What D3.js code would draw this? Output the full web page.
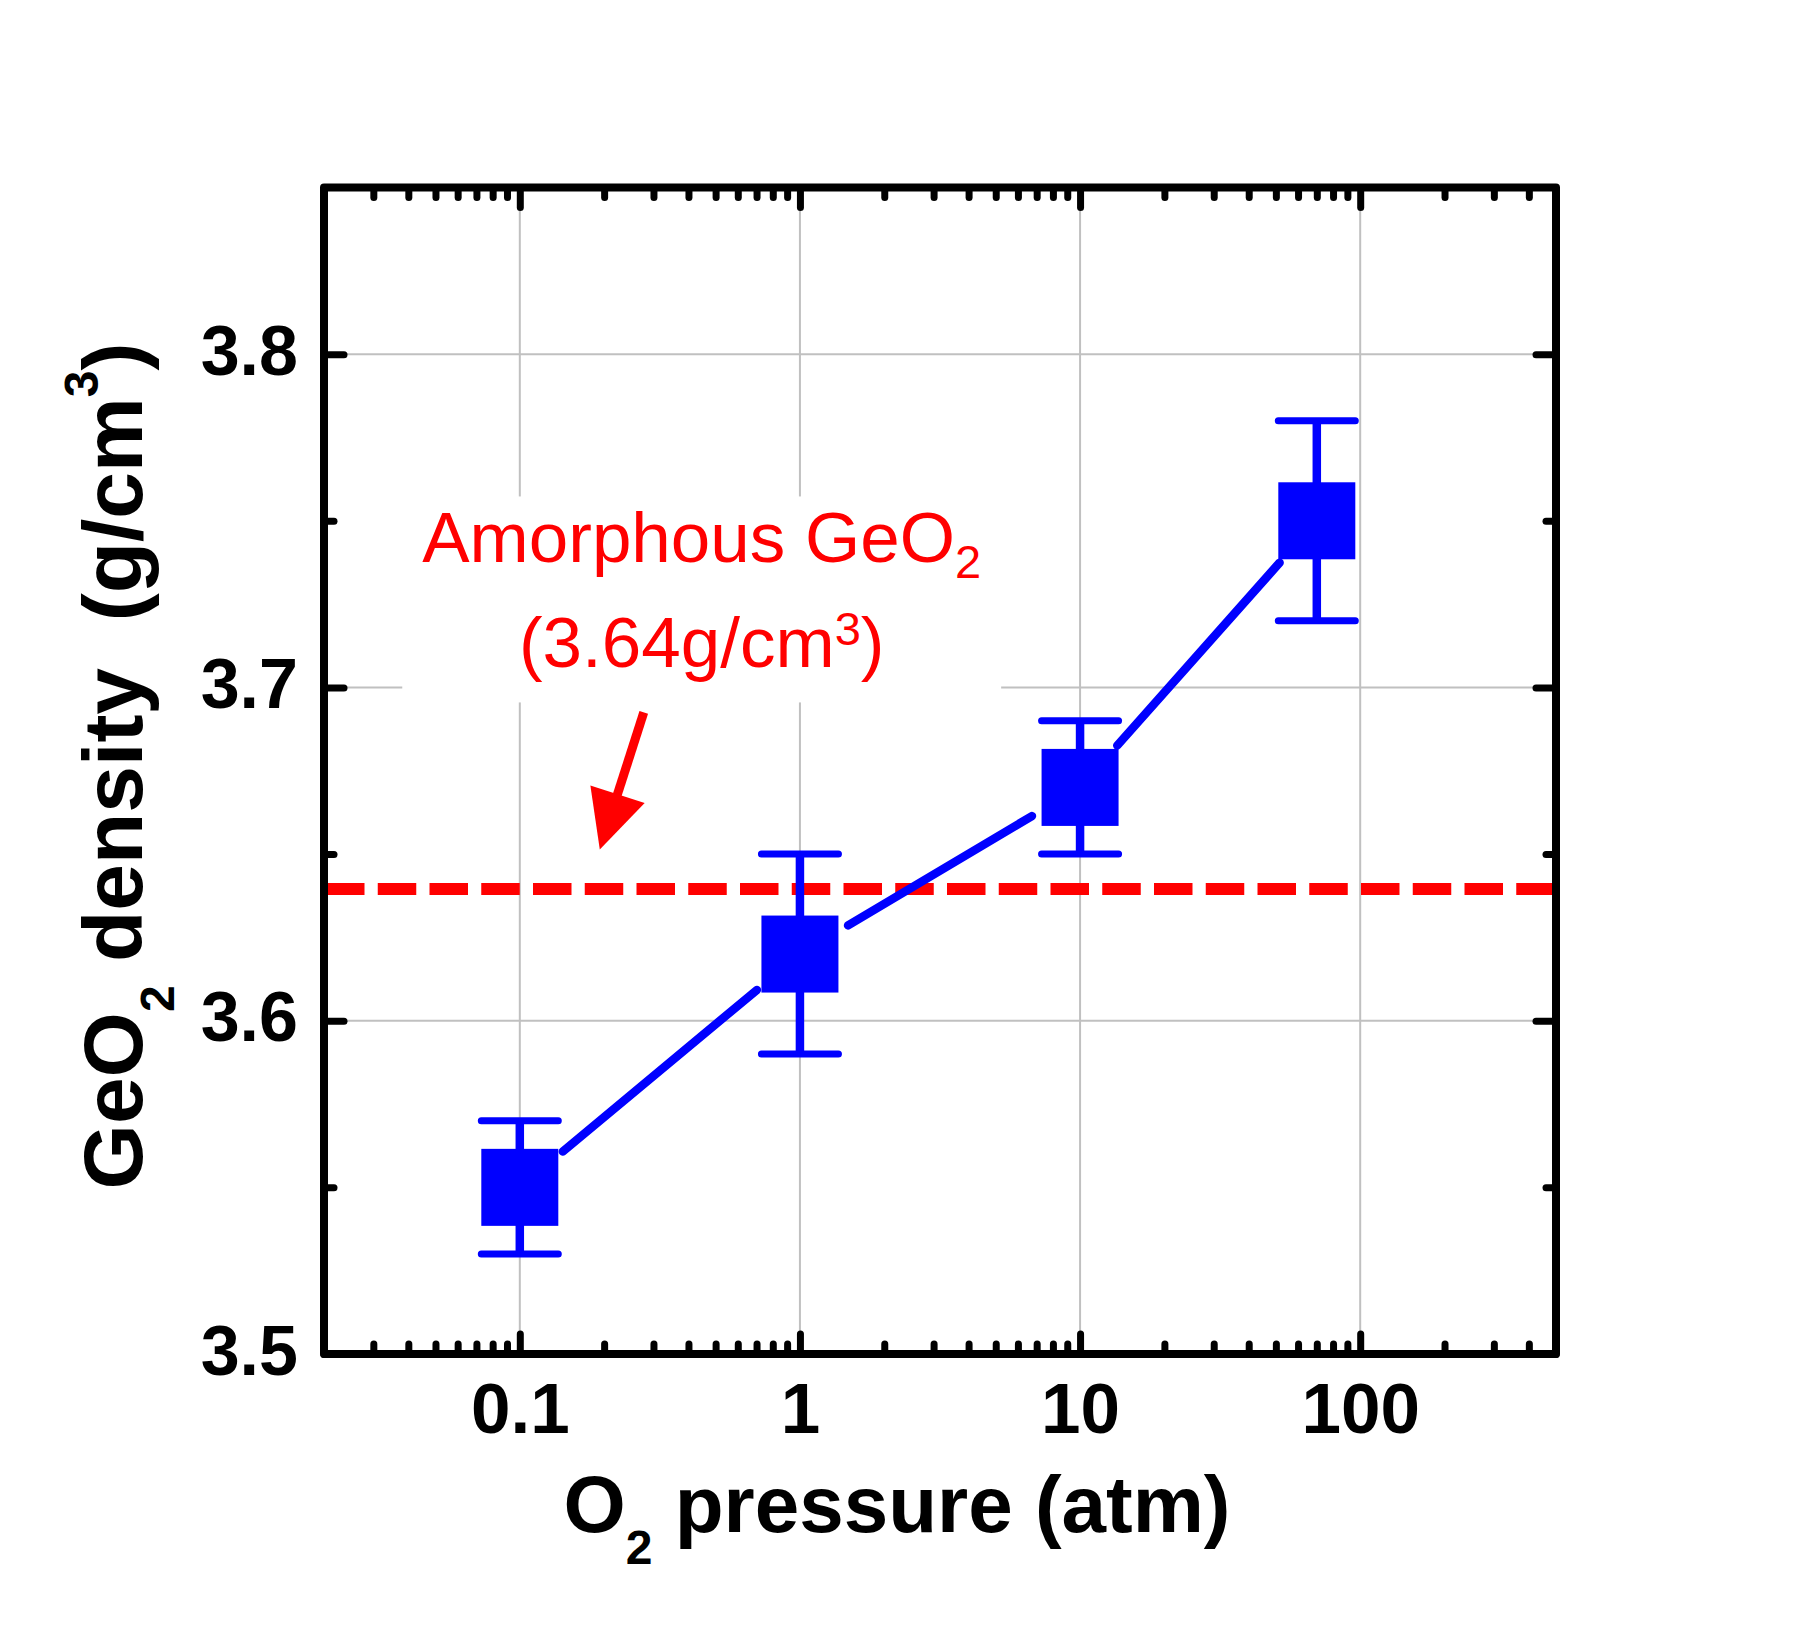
<!DOCTYPE html>
<html><head><meta charset="utf-8">
<script src="https://cdn.jsdelivr.net/npm/d3@7"></script>
<style>
body{margin:0;background:#fff}
svg{display:block}
text{font-family:"Liberation Sans",Arial,sans-serif}
</style>
</head><body>
<script>
// ---- data ----
const pressures = [0.1, 1, 10, 70];
const densities = [3.55, 3.62, 3.67, 3.75];
const errLow = [3.53, 3.59, 3.65, 3.72];
const errHigh = [3.57, 3.65, 3.69, 3.78];
const amorphousDensity = 3.64;
const xDomain = [0.02, 500];
const yDomain = [3.5, 3.85];
const xTickValues = [0.1, 1, 10, 100];
const xTickLabels = ["0.1", "1", "10", "100"];
const xMinorValues = [0.03,0.04,0.05,0.06,0.07,0.08,0.09,0.2,0.3,0.4,0.5,0.6,0.7,0.8,0.9,2,3,4,5,6,7,8,9,20,30,40,50,60,70,80,90,200,300,400];
const yTickValues = [3.5, 3.6, 3.7, 3.8];
const yTickLabels = ["3.5", "3.6", "3.7", "3.8"];
const yMinorValues = [3.55, 3.65, 3.75];
const yGridValues = [3.6, 3.7, 3.8];
// annotation anchor (data coords)
const noteX = 0.446;
const noteLine1Y = 3.7375, noteLine2Y = 3.706;
const arrowTail = [0.277, 3.6925];
const arrowTip = [0.193, 3.6514];

// ---- layout ----
const W = 1807, H = 1626;
const L = 324, R = 1556, T = 187.5, B = 1354;
const x = d3.scaleLog().domain(xDomain).range([L, R]);
const y = d3.scaleLinear().domain(yDomain).range([B, T]);

const svg = d3.select("body").append("svg").attr("width", W).attr("height", H);

// grid
svg.append("g").selectAll("line").data(xTickValues).join("line")
  .attr("x1", d => x(d)).attr("x2", d => x(d)).attr("y1", T).attr("y2", B)
  .attr("stroke", "#c0c0c0").attr("stroke-width", 2);
svg.append("g").selectAll("line").data(yGridValues).join("line")
  .attr("x1", L).attr("x2", R).attr("y1", d => y(d)).attr("y2", d => y(d))
  .attr("stroke", "#c0c0c0").attr("stroke-width", 2);

// annotation
const noteG = svg.append("g");
const boxRect = noteG.append("rect").attr("fill", "#fff");
const t1 = noteG.append("text").attr("x", x(noteX)).attr("y", y(noteLine1Y))
  .attr("text-anchor", "middle").attr("fill", "#ff0000").attr("font-size", 71);
t1.append("tspan").text("Amorphous GeO");
t1.append("tspan").attr("font-size", 47).attr("dy", 16).text("2");
const t2 = noteG.append("text").attr("x", x(noteX)).attr("y", y(noteLine2Y))
  .attr("text-anchor", "middle").attr("fill", "#ff0000").attr("font-size", 71);
t2.append("tspan").text("(3.64g/cm");
t2.append("tspan").attr("font-size", 47).attr("dy", -22).text("3");
t2.append("tspan").attr("dy", 22).text(")");
const b1 = t1.node().getBBox(), b2 = t2.node().getBBox();
const bx0 = Math.min(b1.x, b2.x) - 20, bx1 = Math.max(b1.x + b1.width, b2.x + b2.width) + 20;
boxRect.attr("x", bx0).attr("width", bx1 - bx0)
  .attr("y", b1.y - 2).attr("height", (b2.y + b2.height + 20) - (b1.y - 2));

// arrow
{
  const tx = x(arrowTail[0]), ty = y(arrowTail[1]);
  const hx = x(arrowTip[0]), hy = y(arrowTip[1]);
  const dx = hx - tx, dy = hy - ty, len = Math.hypot(dx, dy);
  const ux = dx / len, uy = dy / len, px = -uy, py = ux;
  const headLen = 58, headW = 57;
  const bxm = hx - ux * headLen, bym = hy - uy * headLen;
  svg.append("line").attr("x1", tx).attr("y1", ty).attr("x2", bxm + ux * 4).attr("y2", bym + uy * 4)
    .attr("stroke", "#ff0000").attr("stroke-width", 9);
  svg.append("path").attr("fill", "#ff0000")
    .attr("d", `M${hx},${hy}L${bxm + px * headW / 2},${bym + py * headW / 2}L${bxm - px * headW / 2},${bym - py * headW / 2}Z`);
}

// reference dashed line
svg.append("line").attr("x1", x(xDomain[0])).attr("x2", x(xDomain[1]))
  .attr("y1", y(amorphousDensity) + 1.5).attr("y2", y(amorphousDensity) + 1.5)
  .attr("stroke", "#ff0000").attr("stroke-width", 12)
  .attr("stroke-dasharray", "38.5 13.25").attr("stroke-dashoffset", -2);

// data
const pts = pressures.map((p, i) => ({ px: x(p), py: y(densities[i]), lo: y(errLow[i]), hi: y(errHigh[i]) }));
const gap = 56;
const segs = d3.pairs(pts).map(([a, b]) => {
  const dx = b.px - a.px, dy = b.py - a.py, len = Math.hypot(dx, dy);
  return { x1: a.px + dx / len * gap, y1: a.py + dy / len * gap, x2: b.px - dx / len * gap, y2: b.py - dy / len * gap };
});
svg.append("g").selectAll("line").data(segs).join("line")
  .attr("x1", d => d.x1).attr("y1", d => d.y1).attr("x2", d => d.x2).attr("y2", d => d.y2)
  .attr("stroke", "#0000ff").attr("stroke-width", 8.5).attr("stroke-linecap", "round");

const eg = svg.append("g");
eg.selectAll("line.stem").data(pts).join("line").attr("class", "stem")
  .attr("x1", d => d.px).attr("x2", d => d.px).attr("y1", d => d.lo).attr("y2", d => d.hi)
  .attr("stroke", "#0000ff").attr("stroke-width", 8.5);
const capHalf = 38.5;
eg.selectAll("line.caplo").data(pts).join("line").attr("class", "caplo")
  .attr("x1", d => d.px - capHalf).attr("x2", d => d.px + capHalf).attr("y1", d => d.lo).attr("y2", d => d.lo)
  .attr("stroke", "#0000ff").attr("stroke-width", 7).attr("stroke-linecap", "round");
eg.selectAll("line.caphi").data(pts).join("line").attr("class", "caphi")
  .attr("x1", d => d.px - capHalf).attr("x2", d => d.px + capHalf).attr("y1", d => d.hi).attr("y2", d => d.hi)
  .attr("stroke", "#0000ff").attr("stroke-width", 7).attr("stroke-linecap", "round");
const sq = 77;
eg.selectAll("rect").data(pts).join("rect")
  .attr("x", d => d.px - sq / 2).attr("y", d => d.py - sq / 2).attr("width", sq).attr("height", sq)
  .attr("fill", "#0000ff");

// frame
svg.append("rect").attr("x", L).attr("y", T).attr("width", R - L).attr("height", B - T)
  .attr("fill", "none").attr("stroke", "#000").attr("stroke-width", 8).attr("stroke-linejoin", "round");

// axes
function styleAxis(g) {
  g.select(".domain").remove();
  g.selectAll(".tick line").attr("stroke", "#000").attr("stroke-width", 7).attr("stroke-linecap", "round");
}
svg.append("g").attr("transform", `translate(0,${B})`)
  .call(d3.axisBottom(x).tickValues(xMinorValues).tickFormat("").tickSizeInner(-10).tickSizeOuter(0)).call(styleAxis);
svg.append("g").attr("transform", `translate(0,${T})`)
  .call(d3.axisTop(x).tickValues(xMinorValues).tickFormat("").tickSizeInner(-10).tickSizeOuter(0)).call(styleAxis);
svg.append("g").attr("transform", `translate(0,${T})`)
  .call(d3.axisTop(x).tickValues(xTickValues).tickFormat("").tickSizeInner(-20).tickSizeOuter(0)).call(styleAxis);
const xb = svg.append("g").attr("transform", `translate(0,${B})`)
  .call(d3.axisBottom(x).tickValues(xTickValues).tickFormat((d, i) => xTickLabels[i]).tickSizeInner(-20).tickSizeOuter(0).tickPadding(20))
  .call(styleAxis);
xb.selectAll(".tick text").attr("y", 79).attr("dy", 0).attr("font-size", 71).attr("font-weight", "bold")
  .attr("font-family", "'Liberation Sans',Arial,sans-serif").attr("fill", "#000");

svg.append("g").attr("transform", `translate(${L},0)`)
  .call(d3.axisLeft(y).tickValues(yMinorValues).tickFormat("").tickSizeInner(-10).tickSizeOuter(0)).call(styleAxis);
svg.append("g").attr("transform", `translate(${R},0)`)
  .call(d3.axisRight(y).tickValues(yMinorValues).tickFormat("").tickSizeInner(-10).tickSizeOuter(0)).call(styleAxis);
svg.append("g").attr("transform", `translate(${R},0)`)
  .call(d3.axisRight(y).tickValues(yTickValues).tickFormat("").tickSizeInner(-20).tickSizeOuter(0)).call(styleAxis);
const yl = svg.append("g").attr("transform", `translate(${L},0)`)
  .call(d3.axisLeft(y).tickValues(yTickValues).tickFormat((d, i) => yTickLabels[i]).tickSizeInner(-20).tickSizeOuter(0).tickPadding(26))
  .call(styleAxis);
yl.selectAll(".tick text").attr("dy", 20).attr("font-size", 70).attr("font-weight", "bold")
  .attr("font-family", "'Liberation Sans',Arial,sans-serif").attr("fill", "#000");

// axis titles
const xt = svg.append("text").attr("x", 897).attr("y", 1532).attr("text-anchor", "middle")
  .attr("font-size", 80).attr("font-weight", "bold").style("white-space", "pre");
xt.append("tspan").text("O");
xt.append("tspan").attr("font-size", 48).attr("dy", 32).text("2");
xt.append("tspan").attr("dy", -32).text(" pressure (atm)");

const yt = svg.append("text").attr("transform", "translate(142,766) rotate(-90)").attr("text-anchor", "middle")
  .attr("font-size", 84).attr("font-weight", "bold").style("white-space", "pre");
yt.append("tspan").text("GeO");
yt.append("tspan").attr("font-size", 48).attr("dy", 32).text("2");
yt.append("tspan").attr("dy", -32).text(" density  (g/cm");
yt.append("tspan").attr("font-size", 48).attr("dy", -44).text("3");
yt.append("tspan").attr("dy", 44).text(")");
</script>
</body></html>
